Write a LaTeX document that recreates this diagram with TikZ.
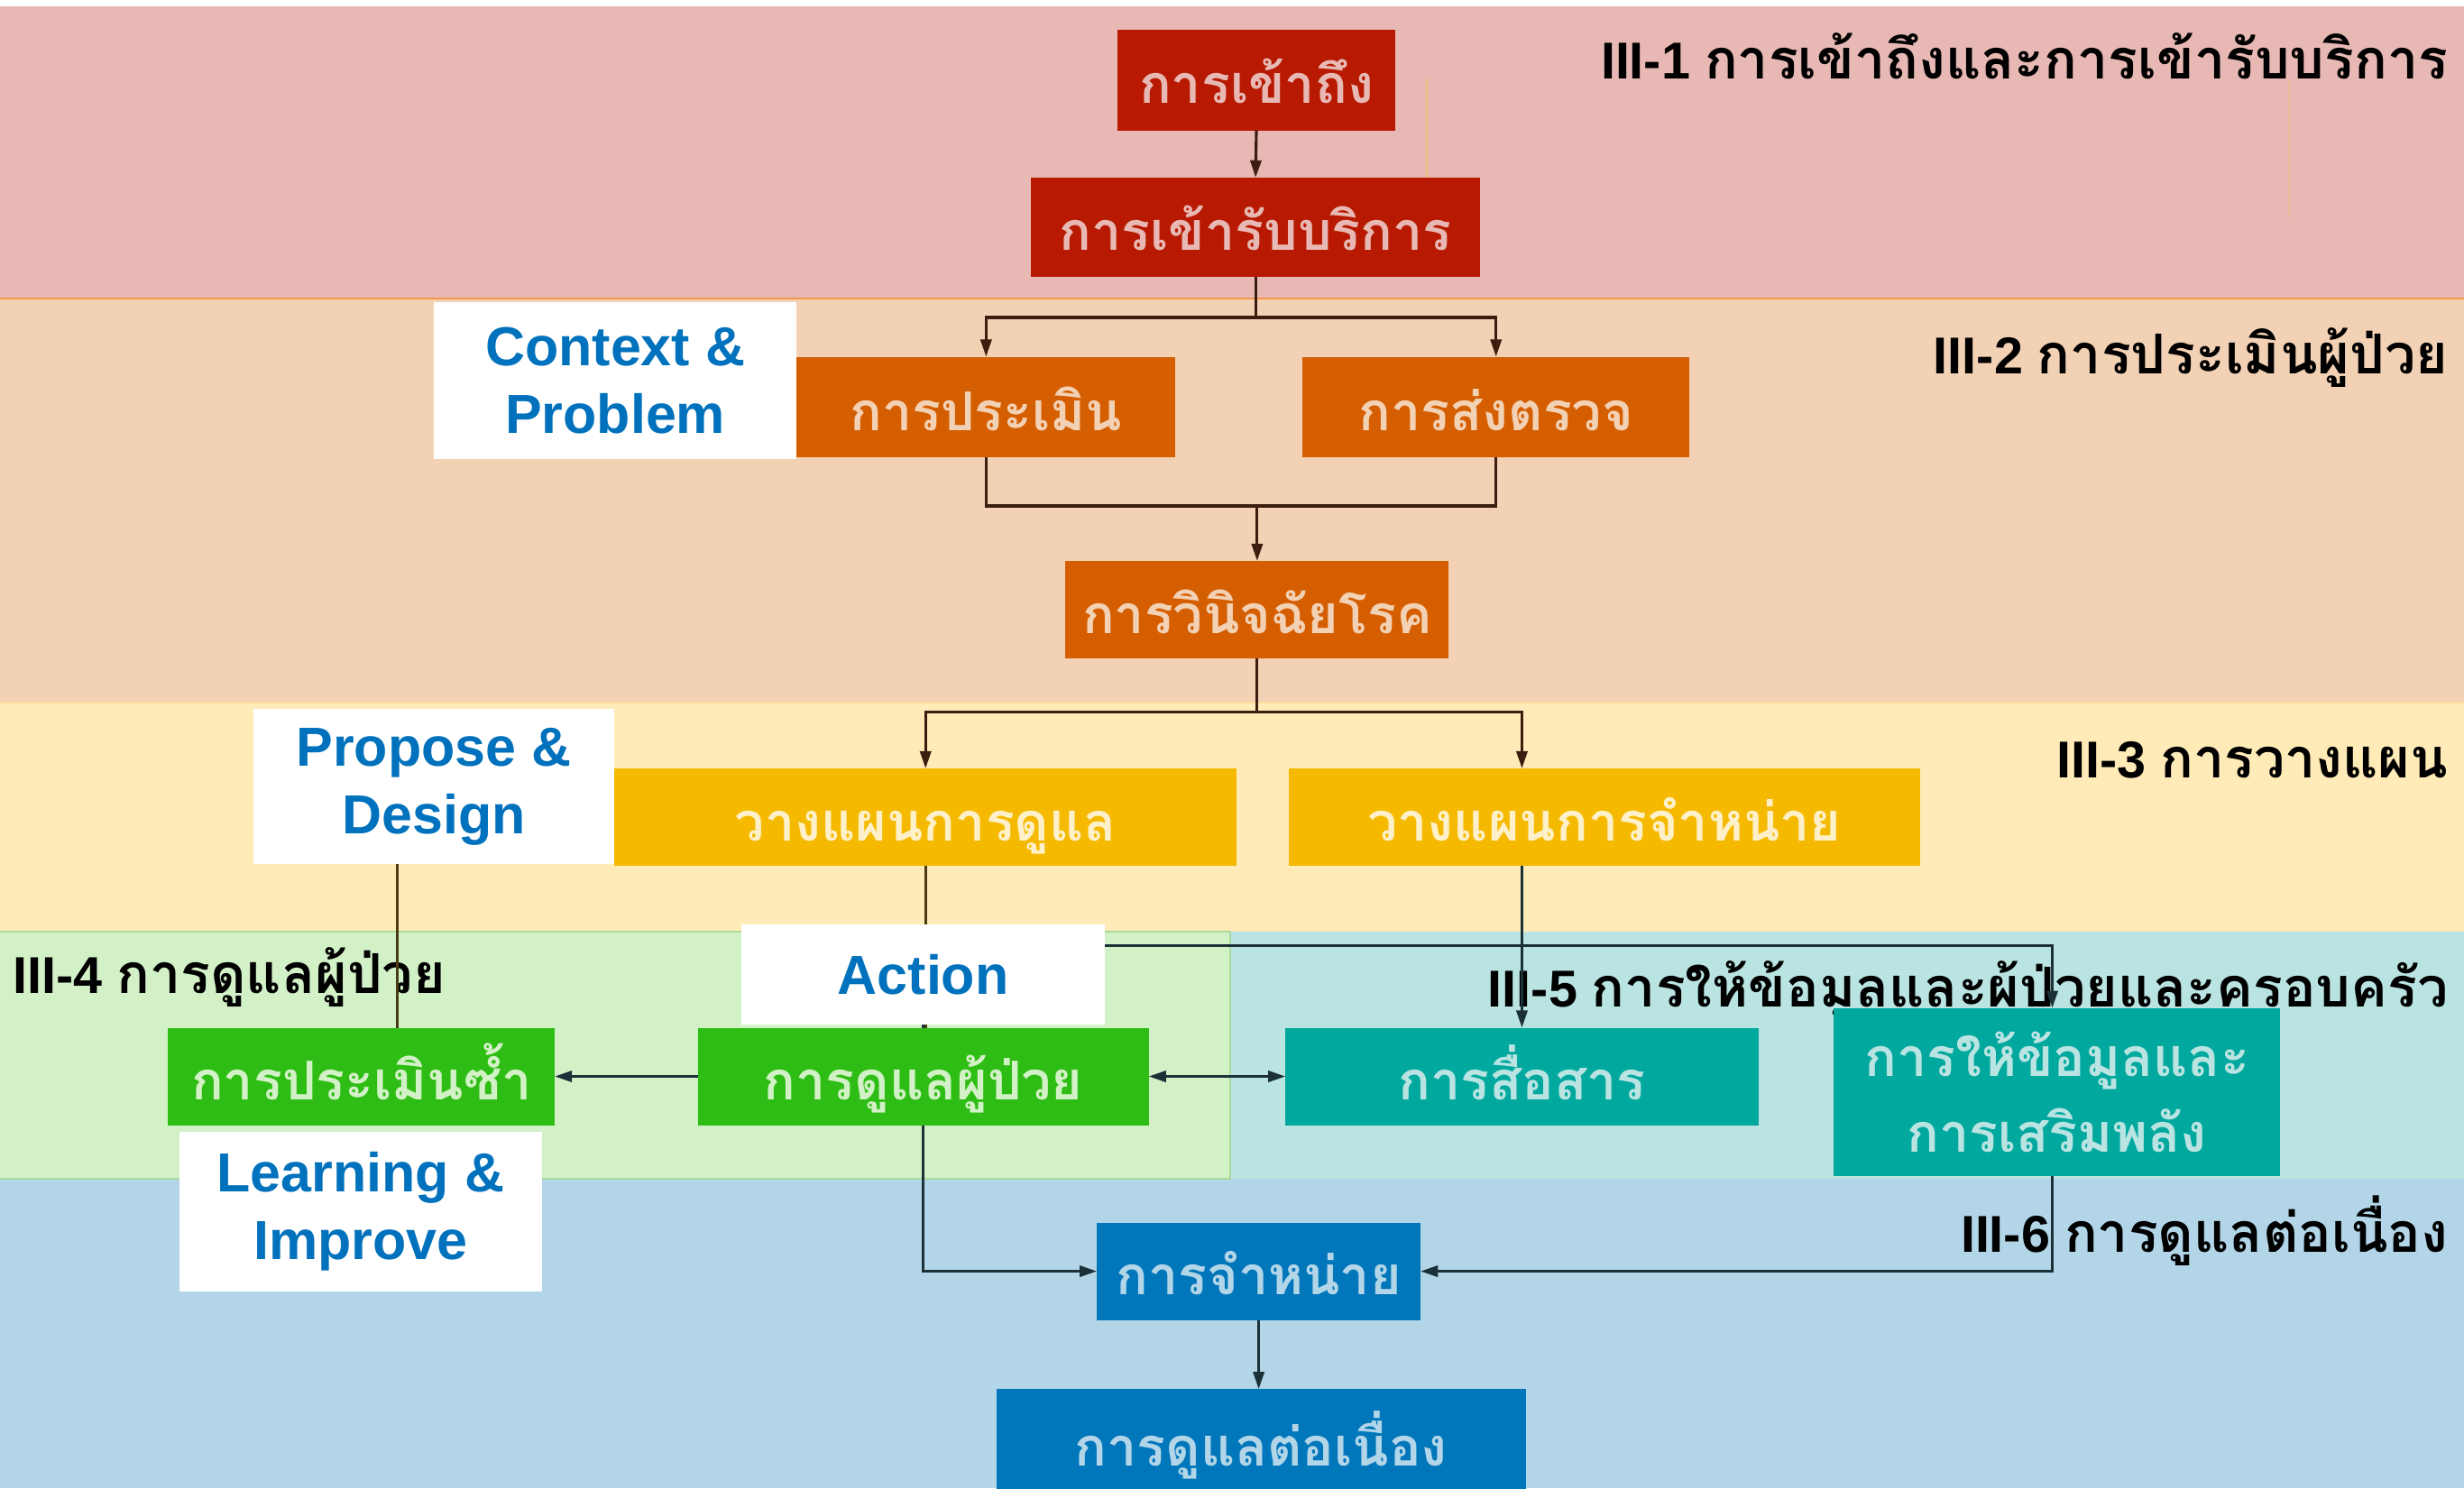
\documentclass[tikz,border=0pt]{standalone}
\usepackage{fontspec}
\usetikzlibrary{arrows.meta,calc}
\setmainfont{Liberation Sans}
\newfontfamily\thai[Script=Thai]{Loma}
\definecolor{bandA}{HTML}{E8B9B4}
\definecolor{bandB}{HTML}{F2D1B4}
\definecolor{bandC}{HTML}{FEEBB8}
\definecolor{bandD}{HTML}{D3F1C7}
\definecolor{bandE}{HTML}{B9E4E2}
\definecolor{bandF}{HTML}{B2D6E8}
\definecolor{boxRed}{HTML}{B71A00}
\definecolor{boxOrange}{HTML}{D55E00}
\definecolor{boxYellow}{HTML}{F5BA00}
\definecolor{boxGreen}{HTML}{2EBD14}
\definecolor{boxTeal}{HTML}{00A89E}
\definecolor{boxBlue}{HTML}{0076BB}
\definecolor{txtYellow}{HTML}{FEF0C8}
\definecolor{engBlue}{HTML}{0071BC}
\definecolor{lineBrown}{HTML}{3C1E10}
\definecolor{lineOlive}{HTML}{4A3A14}
\definecolor{lineDark}{HTML}{1C3038}
\definecolor{artLine}{HTML}{F2C27A}
\definecolor{greenEdge}{HTML}{A9D99B}
\newcommand{\thbox}{\thai\bfseries\fontsize{34}{48}\selectfont}
\newcommand{\lblfont}{\bfseries\fontsize{33}{36}\selectfont}
\newcommand{\lbl}[2]{{\lblfont #1\ }{\thai\bfseries\fontsize{35}{38}\selectfont #2}}
\tikzset{
  cbox/.style={inner sep=0pt, outer sep=0pt, text height=34pt, text depth=4pt, align=center, font=\thbox},
  redbox/.style={cbox, fill=boxRed, text=bandA},
  orangebox/.style={cbox, fill=boxOrange, text=bandB},
  yellowbox/.style={cbox, fill=boxYellow, text=txtYellow},
  greenbox/.style={cbox, fill=boxGreen, text=bandD},
  tealbox/.style={cbox, fill=boxTeal, text=bandE},
  bluebox/.style={cbox, fill=boxBlue, text=bandF},
  whitebox/.style={inner sep=0pt, outer sep=0pt, fill=white, text=engBlue, align=center, font=\bfseries\fontsize{35}{43}\selectfont},
  band label/.style={inner sep=0pt, text=black},
  conn/.style={line width=1.8pt},
  arr/.style={conn, -{Triangle[length=11pt,width=7pt]}},
  darr/.style={conn, {Triangle[length=11pt,width=7pt]}-{Triangle[length=11pt,width=7pt]}},
}
\begin{document}
\begin{tikzpicture}[x=1pt,y=-1pt]
\clip (0,0) rectangle (1568,947);
% bands
\fill[white] (0,0) rectangle (1568,947);
\fill[bandA] (0,4) rectangle (1568,190);
\fill[bandB] (0,190) rectangle (1568,447);
\fill[bandC] (0,447) rectangle (1568,593);
\fill[bandD] (0,593) rectangle (783,750);
\fill[bandE] (783,593) rectangle (1568,750);
\fill[bandF] (0,750) rectangle (1568,947);
\draw[line width=1pt, color=orange!60!bandA] (0,190) -- (1568,190);
\draw[line width=1pt, color=bandC!85!orange] (0,447) -- (1568,447);
\draw[line width=1.2pt, greenEdge] (0,593) -- (783,593) -- (783,750) -- (0,750);
\draw[line width=0.8pt, artLine] (908,50) -- (908,113);
\draw[line width=0.8pt, artLine] (1457,51) -- (1457,138);

% band labels
\node[band label, anchor=base east] (l1) at (1558,50) {\lbl{III-1}{การเข้าถึงและการเข้ารับบริการ}};
\node[band label, anchor=base east] (l2) at (1558,238) {\lbl{III-2}{การประเมินผู้ป่วย}};
\node[band label, anchor=base east] (l3) at (1558,495) {\lbl{III-3}{การวางแผน}};
\node[band label, anchor=base west] (l4) at (8,632) {\lbl{III-4}{การดูแลผู้ป่วย}};
\node[band label, anchor=base east] (l5) at (1558,641) {\lbl{III-5}{การให้ข้อมูลและผู้ป่วยและครอบครัว}};
\node[band label, anchor=base east] (l6) at (1558,797) {\lbl{III-6}{การดูแลต่อเนื่อง}};

% coloured boxes
\node[redbox, minimum width=177pt, minimum height=64pt] (acc) at (799.5,51) {การเข้าถึง};
\node[redbox, minimum width=286pt, minimum height=63pt] (svc) at (799,144.5) {การเข้ารับบริการ};
\node[orangebox, minimum width=241pt, minimum height=64pt] (asm) at (627.5,259) {การประเมิน};
\node[orangebox, minimum width=246pt, minimum height=64pt] (inv) at (952,259) {การส่งตรวจ};
\node[orangebox, minimum width=244pt, minimum height=62pt] (dx) at (800,388) {การวินิจฉัยโรค};
\node[yellowbox, minimum width=396pt, minimum height=62pt] (pc) at (589,520) {วางแผนการดูแล};
\node[yellowbox, minimum width=402pt, minimum height=62pt] (pdc) at (1021,520) {วางแผนการจำหน่าย};
\node[greenbox, minimum width=246pt, minimum height=62pt] (rea) at (230,685) {การประเมินซ้ำ};
\node[greenbox, minimum width=287pt, minimum height=62pt] (care) at (587.5,685) {การดูแลผู้ป่วย};
\node[tealbox, minimum width=301pt, minimum height=62pt] (com) at (968.5,685) {การสื่อสาร};
\node[tealbox, minimum width=284pt, minimum height=107pt, text height=, text depth=] (info) at (1309,695) {การให้ข้อมูลและ\\การเสริมพลัง};
\node[bluebox, minimum width=206pt, minimum height=62pt] (dis) at (801,809) {การจำหน่าย};
\node[bluebox, minimum width=337pt, minimum height=76pt, text height=26pt, text depth=4pt] (cont) at (802.5,922) {การดูแลต่อเนื่อง};

% white label boxes
\node[whitebox, minimum width=231pt, minimum height=100pt] (ctx) at (391.5,242) {Context \&\\Problem};
\node[whitebox, minimum width=230pt, minimum height=99pt] (pd) at (276,500.5) {Propose \&\\Design};
\node[whitebox, minimum width=231pt, minimum height=102pt] (li) at (229.5,771) {Learning \&\\Improve};

% connectors
\coordinate (j1) at ($(svc.south)+(0,26)$);
\draw[conn, lineBrown] (svc.south) -- (j1);
\draw[arr, lineBrown] (acc.south) -- (svc.north);
\draw[arr, lineBrown] (j1) -| (asm.north);
\draw[arr, lineBrown] (j1) -| (inv.north);
\coordinate (j2) at ($(dx.north)+(0,-35)$);
\draw[conn, lineBrown] (asm.south) |- (j2) -| (inv.south);
\draw[arr, lineBrown] (j2) -- (dx.north);
\coordinate (j3) at ($(dx.south)+(0,34)$);
\draw[conn, lineBrown] (dx.south) -- (j3);
\draw[arr, lineBrown] (j3) -| (pc.north);
\draw[arr, lineBrown] (j3) -| (com.north |- pdc.north);
\draw[conn, lineOlive] (pc.south) -- (pc.south |- care.north);
\draw[arr, lineDark] (com.north |- pdc.south) -- (com.north);
\draw[conn, lineOlive] ([xshift=-23pt]pd.south) -- ([xshift=23pt]rea.north);
\draw[arr, lineDark] (care.west) -- (rea.east);
\draw[darr, lineDark] (care.east) -- (com.west);
\coordinate (j5) at (1306,602);
\draw[arr, lineDark] (care.north) |- (j5) -- (j5 |- info.north);
\draw[arr, lineDark] (care.south) |- (dis.west);
\draw[arr, lineDark] (info.south -| j5) |- (dis.east);
\draw[arr, lineDark] (dis.south) -- (dis.south |- cont.north);

% action box covers the line behind it
\node[whitebox, minimum width=231pt, minimum height=64pt] (act) at (587.5,620) {Action};
\end{tikzpicture}
\end{document}
